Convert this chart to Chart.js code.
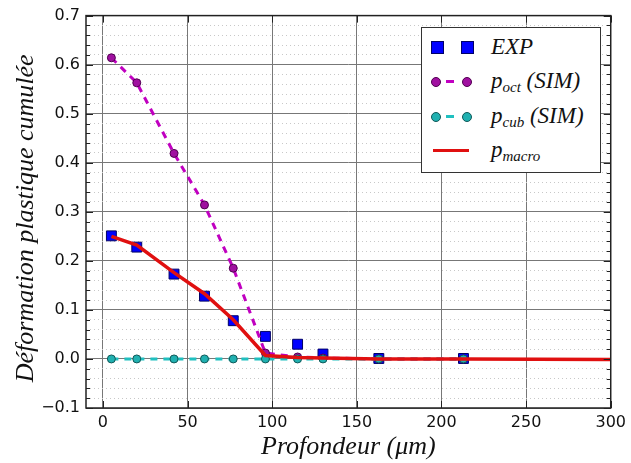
<!DOCTYPE html>
<html><head><meta charset="utf-8">
<script src="https://cdn.jsdelivr.net/npm/chart.js@4/dist/chart.umd.min.js"></script>
<style>
html,body{margin:0;padding:0;background:#fff;}
#wrap{position:relative;width:631px;height:463px;}
#legend{position:absolute;left:421px;top:27px;width:180px;height:146px;border:1.5px solid #333;background:#fff;box-sizing:border-box;}
.row{position:absolute;left:0;width:100%;height:30px;}
.lab{position:absolute;left:69px;top:0;font-family:"Liberation Serif","DejaVu Serif",serif;font-style:italic;font-size:23px;line-height:30px;color:#111;white-space:nowrap;}
.lab sub{font-size:15px;vertical-align:-4px;}
.sq{position:absolute;width:11px;height:11px;background:#0000ff;border:1px solid #000066;top:9px;}
.dot{position:absolute;width:8px;height:8px;border-radius:50%;top:11px;}
.dash{position:absolute;height:3px;top:13.5px;}
.red{position:absolute;height:3px;top:13.5px;background:#e01010;}
</style></head>
<body><div id="wrap"><canvas id="c" width="631" height="463"></canvas>
<div id="legend">
 <div class="row" style="top:4px"><div class="sq" style="left:9px"></div><div class="sq" style="left:39px"></div><div class="lab">EXP</div></div>
 <div class="row" style="top:38px"><div class="dot" style="left:9px;background:#a010a0;border:1px solid #500050"></div><div class="dash" style="left:24px;width:8px;background:#c000c0"></div><div class="dot" style="left:40px;background:#a010a0;border:1px solid #500050"></div><div class="lab">p<sub>oct</sub> (SIM)</div></div>
 <div class="row" style="top:73px"><div class="dot" style="left:9px;background:#20b0b0;border:1px solid #105858"></div><div class="dash" style="left:24px;width:8px;background:#20c0c0"></div><div class="dot" style="left:40px;background:#20b0b0;border:1px solid #105858"></div><div class="lab">p<sub>cub</sub> (SIM)</div></div>
 <div class="row" style="top:107px"><div class="red" style="left:11px;width:36px"></div><div class="lab">p<sub>macro</sub></div></div>
</div></div>
<script>
// Depth (µm)
const simDepth = [5, 20, 42, 60, 77, 96, 115, 130, 163, 213];
const octValues = [0.614, 0.563, 0.419, 0.314, 0.185, 0.012, 0.004, 0.002, 0.000, 0.000];
const cubValues = [0, 0, 0, 0, 0, 0, 0, 0, 0, 0];
const expDepth = [5, 20, 42, 60, 77, 96, 115, 130, 163, 213];
const expValues = [0.251, 0.228, 0.173, 0.128, 0.078, 0.046, 0.030, 0.010, 0.001, 0.001];
const macroDepth = [5, 20, 42, 60, 77, 96, 115, 130, 163, 213, 300];
const macroValues = [0.250, 0.232, 0.176, 0.133, 0.080, 0.007, 0.003, 0.002, 0.000, 0.000, -0.001];
const xTicks = [0, 50, 100, 150, 200, 250, 300];
const yTicks = [-0.1, 0, 0.1, 0.2, 0.3, 0.4, 0.5, 0.6, 0.7];

const pts = (xs, ys) => xs.map((x, i) => ({x: x, y: ys[i]}));
const yMinorTicks = [];
for (let i = -5; i <= 35; i++) { if (i % 5 !== 0) yMinorTicks.push(i * 0.02); }

const framePlugin = {
  id: 'frame',
  afterDatasetsDraw(chart) {
    const {ctx, chartArea: a, scales} = chart;
    ctx.save();
    ctx.strokeStyle = '#222';
    ctx.lineWidth = 1;
    yTicks.forEach(v => {
      const p = Math.round(scales.y.getPixelForValue(v)) + 0.5;
      ctx.beginPath(); ctx.moveTo(a.left, p); ctx.lineTo(a.left + 7, p);
      ctx.moveTo(a.right, p); ctx.lineTo(a.right - 7, p); ctx.stroke();
    });
    yMinorTicks.forEach(v => {
      const p = Math.round(scales.y.getPixelForValue(v)) + 0.5;
      ctx.beginPath(); ctx.moveTo(a.left, p); ctx.lineTo(a.left + 4, p);
      ctx.moveTo(a.right, p); ctx.lineTo(a.right - 4, p); ctx.stroke();
    });
    xTicks.forEach(v => {
      const p = Math.round(scales.x.getPixelForValue(v)) + 0.5;
      ctx.beginPath(); ctx.moveTo(p, a.bottom); ctx.lineTo(p, a.bottom - 7);
      ctx.moveTo(p, a.top); ctx.lineTo(p, a.top + 7); ctx.stroke();
    });
    ctx.lineWidth = 1.5;
    ctx.strokeStyle = '#222';
    ctx.strokeRect(a.left, a.top, a.right - a.left, a.bottom - a.top);
    ctx.restore();
  }
};

new Chart(document.getElementById('c'), {
  type: 'scatter',
  data: {
    datasets: [
      {label: 'p_macro', data: pts(macroDepth, macroValues), showLine: true, borderColor: '#e01010', borderWidth: 3.5, pointRadius: 0, order: 0},
      {label: 'p_cub (SIM)', data: pts(simDepth, cubValues), showLine: true, borderColor: '#20c0c0', borderWidth: 3, borderDash: [7, 6], pointRadius: 4, pointBackgroundColor: '#20b0b0', pointBorderColor: '#105858', pointBorderWidth: 1, order: 1},
      {label: 'p_oct (SIM)', data: pts(simDepth, octValues), showLine: true, borderColor: '#c000c0', borderWidth: 3, borderDash: [7, 6], pointRadius: 4, pointBackgroundColor: '#a010a0', pointBorderColor: '#500050', pointBorderWidth: 1, order: 2},
      {label: 'EXP', data: pts(expDepth, expValues), showLine: false, pointStyle: 'rect', pointRadius: 7, pointBackgroundColor: '#0000ff', pointBorderColor: '#000066', pointBorderWidth: 1, order: 3}
    ]
  },
  options: {
    responsive: false,
    animation: false,
    layout: {padding: {top: 14, right: 20, left: 0, bottom: 0}},
    plugins: {legend: {display: false}, tooltip: {enabled: false}},
    scales: {
      x: {
        type: 'linear', min: -10, max: 300,
        afterBuildTicks: ax => { ax.ticks = xTicks.map(v => ({value: v})); },
        afterFit: ax => { ax.height = 55; },
        grid: {color: '#777', lineWidth: 1, drawTicks: false},
        border: {display: false},
        ticks: {font: {family: 'DejaVu Sans', size: 16}, color: '#111', padding: 5, maxRotation: 0},
        title: {display: true, text: 'Profondeur (μm)', font: {family: 'Liberation Serif', style: 'italic', size: 26}, color: '#111', padding: {top: 0, bottom: 0}}
      },
      yMinor: {
        type: 'linear', min: -0.1, max: 0.7, position: 'left',
        afterBuildTicks: ax => { ax.ticks = yMinorTicks.map(v => ({value: v})); },
        afterFit: ax => { ax.width = 0; },
        grid: {color: '#c8c8c8', lineWidth: 1, drawTicks: false},
        border: {display: false, dash: [1, 3]},
        ticks: {display: false}
      },
      y: {
        type: 'linear', min: -0.1, max: 0.7, position: 'left',
        afterBuildTicks: ax => { ax.ticks = yTicks.map(v => ({value: v})); },
        afterFit: ax => { ax.width = 86; },
        grid: {color: '#777', lineWidth: 1, drawTicks: false},
        border: {display: false},
        ticks: {font: {family: 'DejaVu Sans', size: 16}, color: '#111', padding: 6,
          callback: v => (v < 0 ? '\u2212' : '') + Math.abs(v).toFixed(1)},
        title: {display: true, text: 'Déformation plastique cumulée  ', font: {family: 'Liberation Serif', style: 'italic', size: 26}, color: '#111', padding: {top: 11, bottom: 2}}
      }
    }
  },
  plugins: [framePlugin]
});
</script></body></html>
